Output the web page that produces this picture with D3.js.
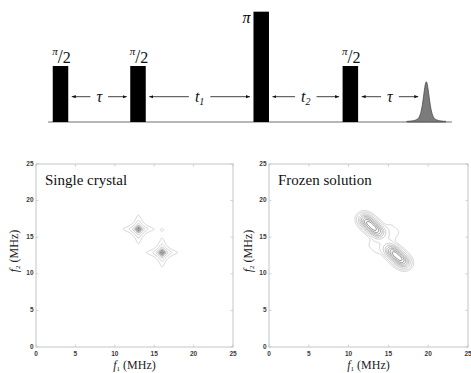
<!DOCTYPE html>
<html><head><meta charset="utf-8">
<script src="https://cdn.jsdelivr.net/npm/d3@7"></script>
<style>body{margin:0;background:#fff}svg{display:block}</style>
</head><body>
<svg id="chart" width="471" height="373"></svg>
<script>
// ---- Pulse sequence (times in units of tau, heights relative to a pi/2 pulse)
const pulseNames = ["π/2", "π/2", "π", "π/2"];
const pulseTimes = [0, 1, 2.59, 3.74];
const pulseHeights = [1, 1, 1.97, 1];
const pulseLength = 0.2;
const echoTime = 4.72;
const echoHeight = 0.72;
const echoWidth = 0.045;
const delayLabels = [["τ", ""], ["t", "1"], ["t", "2"], ["τ", ""]];
const delayEnds = [[0, 1], [1, 2.59], [2.59, 3.74], [3.74, 4.72]];

// ---- Single crystal spectrum: two cross peaks and a weak diagonal peak
const crystalF1 = [13.0, 16.0, 16.0];
const crystalF2 = [16.1, 12.9, 16.0];
const crystalAmp = [1, 1, 0.055];
const crystalWidth = [0.37, 0.37, 0.1];
const crystalLevels = [0.035, 0.09, 0.2, 0.35, 0.5, 0.65, 0.8, 0.95];

// ---- Frozen solution spectrum: ridge along f1 + f2 = 29
const ridgeSum = 29;
const frozenU = [-2.6, 2.6, -0.25];     // position along the ridge
const frozenV = [0.3, -0.35, 0.15];     // offset across the ridge
const frozenAmp = [1, 1, 0.075];
const frozenSpreadU = [1.36, 1.36, 1.0];
const frozenSpreadV = [0.56, 0.56, 2.2];
const frozenPowerU = [3, 3, 4];
const frozenPowerV = [2, 2, 4];
const frozenLevels = [0.05, 0.1, 0.2, 0.32, 0.45, 0.6, 0.75, 0.9];

const axisTicks = [0, 5, 10, 15, 20, 25];
const panelTitles = ["Single crystal", "Frozen solution"];

const svg = d3.select("#chart");

// ================= Pulse sequence =================
const tx = d3.scaleLinear().domain([0, 1]).range([60.5, 138]);
const hy = d3.scaleLinear().domain([0, 1]).range([122, 66]);
const seq = svg.append("g");

seq.append("line")
  .attr("x1", tx(-0.16)).attr("x2", tx(5.05))
  .attr("y1", hy(0)).attr("y2", hy(0))
  .attr("stroke", "#707070").attr("stroke-width", 1.2);

seq.selectAll("rect.pulse").data(pulseTimes).join("rect")
  .attr("class", "pulse")
  .attr("x", d => tx(d - pulseLength / 2))
  .attr("width", d => tx(d + pulseLength / 2) - tx(d - pulseLength / 2))
  .attr("y", (d, i) => hy(pulseHeights[i]))
  .attr("height", (d, i) => hy(0) - hy(pulseHeights[i]))
  .attr("fill", "#000");

// pulse flip-angle labels
pulseNames.forEach((name, i) => {
  const cx = tx(pulseTimes[i]);
  const pulseTop = hy(pulseHeights[i]);
  if (name === "π") {
    seq.append("text").attr("x", tx(pulseTimes[i] - pulseLength / 2) - 3).attr("y", pulseTop + 11)
      .attr("text-anchor", "end")
      .attr("font-family", "Liberation Serif").attr("font-style", "italic").attr("font-size", 16)
      .text("π");
  } else {
    const t = seq.append("text").attr("x", cx + 1).attr("y", pulseTop - 3)
      .attr("text-anchor", "middle").attr("font-family", "Liberation Serif").attr("fill", "#111");
    t.append("tspan").attr("font-size", 11).attr("font-style", "italic").attr("dy", -8).text("π");
    t.append("tspan").attr("font-size", 18).attr("dy", 8).text("/");
    t.append("tspan").attr("font-size", 16).text("2");
  }
});

// echo
const echoShape = t => {
  const z = (t - echoTime) / echoWidth;
  return echoHeight * (0.5 / (1 + z * z) + 0.5 * Math.exp(-Math.log(2) * z * z));
};
const echoTimes = d3.range(echoTime - 0.25, echoTime + 0.25001, 0.005);
seq.append("path")
  .datum(echoTimes)
  .attr("d", d3.area().x(t => tx(t)).y0(hy(0)).y1(t => hy(echoShape(t))).curve(d3.curveBasis))
  .attr("fill", "#7b7b7b").attr("stroke", "#4a4a4a").attr("stroke-width", 0.8);

// delay arrows
const defs = svg.append("defs");
defs.append("marker").attr("id", "ah").attr("viewBox", "0 0 10 10")
  .attr("refX", 10).attr("refY", 5).attr("markerWidth", 5).attr("markerHeight", 5)
  .attr("orient", "auto-start-reverse")
  .append("path").attr("d", "M0,1 L10,5 L0,9 Z").attr("fill", "#111");

const arrowY = 96.7;
delayLabels.forEach((lab, i) => {
  const [a, b] = delayEnds[i];
  const x0 = tx(a + pulseLength / 2) + 3.5;
  const x1 = (i === 3 ? tx(b) - 8 : tx(b - pulseLength / 2) - 3.5);
  const mid = (x0 + x1) / 2;
  const t = seq.append("text").attr("x", mid).attr("y", arrowY + 5)
    .attr("text-anchor", "middle").attr("font-family", "Liberation Serif")
    .attr("font-style", "italic").attr("font-size", 16).attr("fill", "#111");
  t.append("tspan").text(lab[0]);
  if (lab[1]) t.append("tspan").attr("font-size", 10).attr("dy", 3).text(lab[1]);
  const w = t.node().getComputedTextLength();
  const g0 = mid - w / 2 - 6, g1 = mid + w / 2 + 6;
  [[g0, x0], [g1, x1]].forEach(([s, e]) => {
    seq.append("line").attr("x1", s).attr("x2", e).attr("y1", arrowY).attr("y2", arrowY)
      .attr("stroke", "#111").attr("stroke-width", 0.8).attr("marker-end", "url(#ah)");
  });
});

// ================= Contour panels =================
const step = 0.05;
const n = Math.round(25 / step) + 1;

function crystalField(f1, f2) {
  let s = 0;
  for (let k = 0; k < crystalF1.length; k++) {
    const dx = (f1 - crystalF1[k]) / crystalWidth[k];
    const dy = (f2 - crystalF2[k]) / crystalWidth[k];
    s += crystalAmp[k] / ((1 + dx * dx) * (1 + dy * dy));
  }
  return s;
}
function frozenField(f1, f2) {
  const u = (f1 - f2) / Math.SQRT2;
  const v = (f1 + f2 - ridgeSum) / Math.SQRT2;
  let s = 0;
  for (let k = 0; k < frozenU.length; k++) {
    const du = Math.abs(u - frozenU[k]) / frozenSpreadU[k];
    const dv = Math.abs(v - frozenV[k]) / frozenSpreadV[k];
    s += frozenAmp[k] * Math.exp(-0.5 * Math.pow(du, frozenPowerU[k]) - 0.5 * Math.pow(dv, frozenPowerV[k]));
  }
  return s;
}

const panels = [
  { left: 36, right: 233, field: crystalField, levels: crystalLevels, ylabX: 18 },
  { left: 269, right: 468, field: frozenField, levels: frozenLevels, ylabX: 252 }
];
const plotTop = 164, plotBottom = 347;

panels.forEach((p, pi) => {
  const x = d3.scaleLinear().domain([0, 25]).range([p.left, p.right]);
  const y = d3.scaleLinear().domain([0, 25]).range([plotBottom, plotTop]);
  const g = svg.append("g");

  // sampled spectrum
  const values = new Float64Array(n * n);
  for (let j = 0; j < n; j++)
    for (let i = 0; i < n; i++)
      values[j * n + i] = p.field(i * step, j * step);

  const contours = d3.contours().size([n, n]).thresholds(p.levels)(values);
  const proj = d3.geoTransform({
    point(px, py) { this.stream.point(x((px - 0.5) * step), y((py - 0.5) * step)); }
  });
  const path = d3.geoPath(proj);
  const shade = d3.scaleLinear().domain([p.levels[0], p.levels[p.levels.length - 1]])
    .range(["#c2c2c2", "#5a5a5a"]);

  g.selectAll("path.c").data(contours).join("path")
    .attr("class", "c").attr("d", path)
    .attr("fill", "none").attr("stroke", d => shade(d.value)).attr("stroke-width", 0.75);

  // frame with inward ticks on all sides
  g.append("rect").attr("x", p.left).attr("y", plotTop)
    .attr("width", p.right - p.left).attr("height", plotBottom - plotTop)
    .attr("fill", "none").attr("stroke", "#c6c6c6").attr("stroke-width", 1);
  const tickLen = 2.5;
  axisTicks.forEach(v => {
    [[x(v), plotBottom, x(v), plotBottom - tickLen], [x(v), plotTop, x(v), plotTop + tickLen],
     [p.left, y(v), p.left + tickLen, y(v)], [p.right, y(v), p.right - tickLen, y(v)]]
      .forEach(([a, b, c, d]) => g.append("line").attr("x1", a).attr("y1", b).attr("x2", c).attr("y2", d)
        .attr("stroke", "#c6c6c6").attr("stroke-width", 0.8));
  });

  g.selectAll("text.xt").data(axisTicks).join("text").attr("class", "xt")
    .attr("x", d => x(d)).attr("y", plotBottom + 8.5).attr("text-anchor", "middle")
    .attr("font-family", "Liberation Sans").attr("font-weight", "bold")
    .attr("font-size", 6.5).attr("fill", "#3a3a3a").text(d => d);
  g.selectAll("text.yt").data(axisTicks).join("text").attr("class", "yt")
    .attr("x", p.left - 2.5).attr("y", d => y(d) + 1.5).attr("text-anchor", "end")
    .attr("font-family", "Liberation Sans").attr("font-weight", "bold")
    .attr("font-size", 6.5).attr("fill", "#3a3a3a").text(d => d);

  // titles
  g.append("text").attr("x", p.left + 9).attr("y", 184.5)
    .attr("font-family", "Liberation Serif").attr("font-size", 15).attr("fill", "#111")
    .text(panelTitles[pi]);

  // axis labels
  const xl = g.append("text").attr("x", (p.left + p.right) / 2).attr("y", 369)
    .attr("text-anchor", "middle").attr("font-family", "Liberation Serif")
    .attr("font-size", 12).attr("fill", "#222");
  xl.append("tspan").attr("font-style", "italic").text("f");
  xl.append("tspan").attr("font-size", 7).attr("dy", 2).text("1");
  xl.append("tspan").attr("dy", -2).text("\u00a0(MHz)");

  const yl = g.append("text").attr("transform", `translate(${p.ylabX},251) rotate(-90)`)
    .attr("text-anchor", "middle").attr("font-family", "Liberation Serif")
    .attr("font-size", 12).attr("fill", "#222");
  yl.append("tspan").attr("font-style", "italic").text("f");
  yl.append("tspan").attr("font-size", 7).attr("dy", 2).text("2");
  yl.append("tspan").attr("dy", -2).text("\u00a0(MHz)");
});
</script>
</body></html>
